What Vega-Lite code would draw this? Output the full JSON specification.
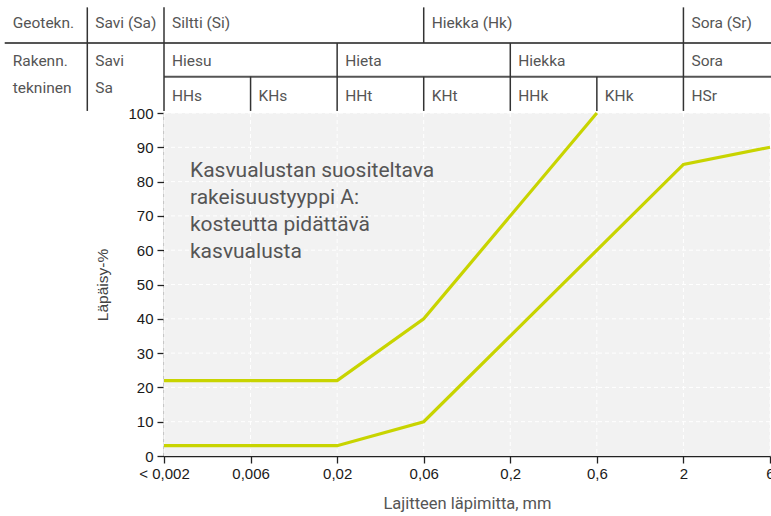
{
  "$schema": "https://vega.github.io/schema/vega-lite/v6.json",
  "width": 606,
  "height": 343,
  "autosize": {"type": "none"},
  "padding": {"left": 164, "top": 113, "right": 1, "bottom": 60},
  "background": "#ffffff",
  "config": {
    "view": {"stroke": null},
    "axis": {
      "grid": false,
      "domainColor": "#222222",
      "domainWidth": 1.5,
      "tickColor": "#222222",
      "tickSize": 7,
      "tickWidth": 1.3,
      "labelFont": "Liberation Sans",
      "labelFontSize": 15,
      "labelColor": "#1a1a1a",
      "labelOverlap": false,
      "labelFlush": false,
      "titleFontWeight": "normal"
    },
    "axisX": {
      "labelPadding": 3,
      "titleFont": "Roboto",
      "titleFontSize": 16.5,
      "titleColor": "#555555",
      "titlePadding": 14
    },
    "axisY": {
      "labelPadding": 4,
      "tickCount": 11,
      "titleFont": "Liberation Sans",
      "titleFontSize": 15.5,
      "titleColor": "#444444",
      "titlePadding": 17
    }
  },
  "datasets": {
    "curves": [
      {"series": "ylaraja", "i": 0, "p": 22},
      {"series": "ylaraja", "i": 2, "p": 22},
      {"series": "ylaraja", "i": 3, "p": 40},
      {"series": "ylaraja", "i": 5, "p": 100},
      {"series": "alaraja", "i": 0, "p": 3},
      {"series": "alaraja", "i": 2, "p": 3},
      {"series": "alaraja", "i": 3, "p": 10},
      {"series": "alaraja", "i": 6, "p": 85},
      {"series": "alaraja", "i": 7, "p": 90}
    ],
    "hlines": [
      {"x1": -1.84, "x2": 7.05, "y": 120.4},
      {"x1": 0, "x2": 7.05, "y": 110.6}
    ],
    "vlines": [
      {"x": -0.886, "y1": 100.6, "y2": 130.8},
      {"x": 0, "y1": 100.6, "y2": 130.8},
      {"x": 6, "y1": 100.6, "y2": 130.8},
      {"x": 3, "y1": 120.4, "y2": 130.8},
      {"x": 2, "y1": 100.6, "y2": 120.4},
      {"x": 4, "y1": 100.6, "y2": 120.4},
      {"x": 1, "y1": 100.6, "y2": 110.6},
      {"x": 3, "y1": 100.6, "y2": 110.6},
      {"x": 5, "y1": 100.6, "y2": 110.6}
    ],
    "labels": [
      {"x": -1.84, "y": 126.2, "t": "Geotekn."},
      {"x": -0.886, "y": 126.2, "t": "Savi (Sa)"},
      {"x": 0, "y": 126.2, "t": "Siltti (Si)"},
      {"x": 3, "y": 126.2, "t": "Hiekka (Hk)"},
      {"x": 6, "y": 126.2, "t": "Sora (Sr)"},
      {"x": -1.84, "y": 115.2, "t": "Rakenn."},
      {"x": -1.84, "y": 107.3, "t": "tekninen"},
      {"x": -0.886, "y": 115.2, "t": "Savi"},
      {"x": -0.886, "y": 107.3, "t": "Sa"},
      {"x": 0, "y": 115.2, "t": "Hiesu"},
      {"x": 2, "y": 115.2, "t": "Hieta"},
      {"x": 4, "y": 115.2, "t": "Hiekka"},
      {"x": 6, "y": 115.2, "t": "Sora"},
      {"x": 0, "y": 105.0, "t": "HHs"},
      {"x": 1, "y": 105.0, "t": "KHs"},
      {"x": 2, "y": 105.0, "t": "HHt"},
      {"x": 3, "y": 105.0, "t": "KHt"},
      {"x": 4, "y": 105.0, "t": "HHk"},
      {"x": 5, "y": 105.0, "t": "KHk"},
      {"x": 6, "y": 105.0, "t": "HSr"}
    ],
    "note": [
      {"x": 0.3, "y": 81.3, "t": "Kasvualustan suositeltava\nrakeisuustyyppi A:\nkosteutta pidättävä\nkasvualusta"}
    ],
    "xgrid": [{"i": 0}, {"i": 1}, {"i": 2}, {"i": 3}, {"i": 4}, {"i": 5}, {"i": 6}, {"i": 7}],
    "ygrid": [{"p": 10}, {"p": 20}, {"p": 30}, {"p": 40}, {"p": 50}, {"p": 60}, {"p": 70}, {"p": 80}, {"p": 90}, {"p": 100}]
  },
  "layer": [
    {
      "data": {"values": [{"a": 0, "b": 7, "c": 0, "d": 100}]},
      "mark": {"type": "rect", "color": "#f2f2f2"},
      "encoding": {
        "x": {
          "field": "a",
          "type": "quantitative",
          "title": "Lajitteen läpimitta, mm",
          "scale": {"domain": [0, 7], "nice": false, "zero": false},
          "axis": {
            "values": [0, 1, 2, 3, 4, 5, 6, 7],
            "labelExpr": "['< 0,002','0,006','0,02','0,06','0,2','0,6','2','6'][datum.value]",
            "labelOverlap": false
          }
        },
        "x2": {"field": "b"},
        "y": {
          "field": "c",
          "type": "quantitative",
          "title": "Läpäisy-%",
          "scale": {"domain": [0, 100], "nice": false},
          "axis": {
            "values": [0, 10, 20, 30, 40, 50, 60, 70, 80, 90, 100],
            "tickCount": 11,
            "labelOverlap": false,
            "labelExpr": "format(datum.value, 'd')"
          }
        },
        "y2": {"field": "d"}
      }
    },
    {
      "data": {"name": "xgrid"},
      "mark": {"type": "rule", "color": "#ffffff", "strokeWidth": 1, "strokeDash": [4, 3]},
      "encoding": {
        "x": {"field": "i", "type": "quantitative", "title": "Lajitteen läpimitta, mm"}
      }
    },
    {
      "data": {"name": "ygrid"},
      "mark": {"type": "rule", "color": "#ffffff", "strokeWidth": 1, "strokeDash": [4, 3]},
      "encoding": {
        "y": {"field": "p", "type": "quantitative", "title": "Läpäisy-%"}
      }
    },
    {
      "data": {"name": "curves"},
      "mark": {"type": "line", "color": "#c8d400", "strokeWidth": 3.2, "clip": false},
      "encoding": {
        "x": {"field": "i", "type": "quantitative", "title": "Lajitteen läpimitta, mm"},
        "y": {"field": "p", "type": "quantitative", "title": "Läpäisy-%"},
        "detail": {"field": "series"}
      }
    },
    {
      "data": {"name": "hlines"},
      "mark": {"type": "rule", "color": "#555555", "strokeWidth": 2, "clip": false},
      "encoding": {
        "x": {"field": "x1", "type": "quantitative", "title": "Lajitteen läpimitta, mm"},
        "x2": {"field": "x2"},
        "y": {"field": "y", "type": "quantitative", "title": "Läpäisy-%"}
      }
    },
    {
      "data": {"name": "vlines"},
      "mark": {"type": "rule", "color": "#333333", "strokeWidth": 1.5, "clip": false},
      "encoding": {
        "x": {"field": "x", "type": "quantitative", "title": "Lajitteen läpimitta, mm"},
        "y": {"field": "y1", "type": "quantitative", "title": "Läpäisy-%"},
        "y2": {"field": "y2"}
      }
    },
    {
      "data": {"name": "labels"},
      "mark": {"type": "text", "align": "left", "baseline": "middle", "dx": 8, "font": "Roboto", "fontSize": 15.5, "color": "#555555", "clip": false},
      "encoding": {
        "x": {"field": "x", "type": "quantitative", "title": "Lajitteen läpimitta, mm"},
        "y": {"field": "y", "type": "quantitative", "title": "Läpäisy-%"},
        "text": {"field": "t"}
      }
    },
    {
      "data": {"name": "note"},
      "mark": {"type": "text", "align": "left", "baseline": "alphabetic", "font": "Roboto", "fontSize": 21, "lineHeight": 27, "lineBreak": "\n", "color": "#555555"},
      "encoding": {
        "x": {"field": "x", "type": "quantitative", "title": "Lajitteen läpimitta, mm"},
        "y": {"field": "y", "type": "quantitative", "title": "Läpäisy-%"},
        "text": {"field": "t"}
      }
    }
  ]
}
